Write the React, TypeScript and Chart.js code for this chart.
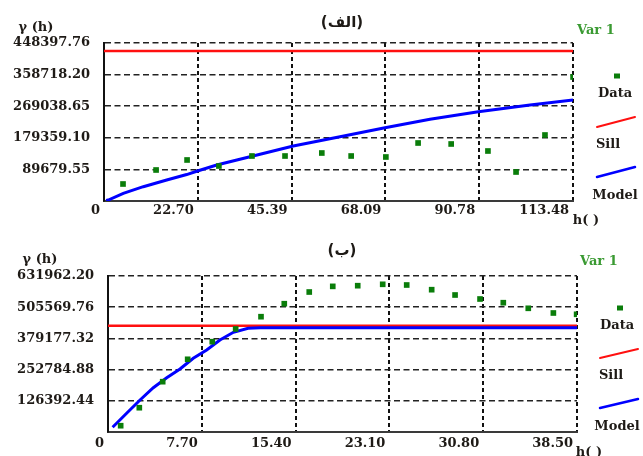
import React, { useEffect, useRef } from "react";
import { Chart, registerables } from "chart.js";

Chart.register(...registerables);

// ---------- Panel (الف) ----------
const A_TITLE = "(الف)";
const A_LAG = [4.6, 12.6, 20.1, 27.8, 35.8, 43.8, 52.7, 59.8, 68.2, 76.0, 84.0, 92.9, 99.7, 106.7, 113.5];
const A_GAMMA = [48250, 88000, 116400, 99300, 127700, 127700, 136200, 127700, 124900, 164600, 161800, 141900, 82300, 187300, 351900];
const A_MODEL_LAG = [0.5, 1.04, 4.67, 9.51, 15.17, 20.01, 22.43, 27.27, 35.33, 45.8, 57.1, 67.99, 78.88, 90.57, 103.08, 113.48];
const A_MODEL_GAMMA = [1500, 2800, 21900, 40600, 59600, 75000, 84500, 102200, 125700, 156100, 182500, 208000, 231900, 253400, 272400, 286600];
const A_SILL = 425700;
const A_X_TICKS = [0, 22.7, 45.39, 68.09, 90.78, 113.48];
const A_X_LABELS = ["0", "22.70", "45.39", "68.09", "90.78", "113.48"];
const A_Y_TICKS = [0, 89679.55, 179359.1, 269038.65, 358718.2, 448397.76];
const A_Y_LABELS = ["", "89679.55", "179359.10", "269038.65", "358718.20", "448397.76"];

// ---------- Panel (ب) ----------
const B_TITLE = "(ب)";
const B_LAG = [1.04, 2.57, 4.49, 6.54, 8.56, 10.48, 12.56, 14.47, 16.52, 18.45, 20.5, 22.55, 24.52, 26.57, 28.49, 30.54, 32.45, 34.5, 36.56, 38.47];
const B_GAMMA = [25500, 98400, 203800, 294500, 365800, 417300, 467100, 519700, 567100, 590000, 592700, 598300, 595500, 576500, 555000, 538800, 523800, 501100, 482100, 476800];
const B_MODEL_LAG = [0.38, 1.53, 2.63, 3.72, 4.82, 5.91, 7.0, 8.1, 9.19, 10.29, 11.5, 12.5, 38.5];
const B_MODEL_GAMMA = [19000, 75800, 129600, 179500, 220000, 255200, 298500, 332200, 372700, 403900, 420100, 422500, 422500];
const B_SILL = 430600;
const B_X_TICKS = [0, 7.7, 15.4, 23.1, 30.8, 38.5];
const B_X_LABELS = ["0", "7.70", "15.40", "23.10", "30.80", "38.50"];
const B_Y_TICKS = [0, 126392.44, 252784.88, 379177.32, 505569.76, 631962.2];
const B_Y_LABELS = ["", "126392.44", "252784.88", "379177.32", "505569.76", "631962.20"];

const LEGEND_LABELS = ["Data", "Sill", "Model"];
const SERIES_NAME = "Var 1";
const Y_AXIS_NAME = "γ (h)";
const X_AXIS_NAME = "h( )";

const W = 643;
const H = 228;
const TEXT = "#1e1a16";
const GREEN = "#0a7d0a";
const RED = "#ff1010";
const BLUE = "#0000ff";
const SERIF = "'DejaVu Serif', 'Liberation Serif', serif";

type Panel = {
  title: string;
  lag: number[];
  gamma: number[];
  modelLag: number[];
  modelGamma: number[];
  sill: number;
  xTicks: number[];
  xLabels: string[];
  yTicks: number[];
  yLabels: string[];
  area: { left: number; right: number; top: number; bottom: number };
  xPad: number;
  lay: {
    gamma: [number, number];
    title: [number, number];
    varName: [number, number];
    marker: [number, number];
    data: [number, number];
    red: [number, number, number, number];
    sill: [number, number];
    blue: [number, number, number, number];
    model: [number, number];
    hname: [number, number];
  };
};

const PANELS: Panel[] = [
  {
    title: A_TITLE,
    lag: A_LAG,
    gamma: A_GAMMA,
    modelLag: A_MODEL_LAG,
    modelGamma: A_MODEL_GAMMA,
    sill: A_SILL,
    xTicks: A_X_TICKS,
    xLabels: A_X_LABELS,
    yTicks: A_Y_TICKS,
    yLabels: A_Y_LABELS,
    area: { left: 104, right: 573, top: 43, bottom: 201 },
    xPad: 2,
    lay: {
      gamma: [36, 28],
      title: [342, 23],
      varName: [577, 31],
      marker: [617, 76],
      data: [615, 94],
      red: [597, 127, 635, 117],
      sill: [608, 145],
      blue: [597, 177, 635, 167],
      model: [615, 196],
      hname: [586, 221],
    },
  },
  {
    title: B_TITLE,
    lag: B_LAG,
    gamma: B_GAMMA,
    modelLag: B_MODEL_LAG,
    modelGamma: B_MODEL_GAMMA,
    sill: B_SILL,
    xTicks: B_X_TICKS,
    xLabels: B_X_LABELS,
    yTicks: B_Y_TICKS,
    yLabels: B_Y_LABELS,
    area: { left: 108, right: 577, top: 48, bottom: 204 },
    xPad: 4,
    lay: {
      gamma: [40, 32],
      title: [342, 23],
      varName: [580, 34],
      marker: [620, 80],
      data: [617, 98],
      red: [600, 130, 638, 121],
      sill: [611, 148],
      blue: [600, 180, 638, 171],
      model: [617, 199],
      hname: [589, 225],
    },
  },
];

function overlayPlugin(p: Panel) {
  return {
    id: "overlay",
    afterDraw(chart: any) {
      const ctx: CanvasRenderingContext2D = chart.ctx;
      const L = p.lay;
      ctx.save();
      ctx.textBaseline = "middle";
      ctx.textAlign = "center";
      ctx.fillStyle = TEXT;

      ctx.font = `bold 13px ${SERIF}`;
      ctx.fillText(Y_AXIS_NAME, L.gamma[0], L.gamma[1]);
      ctx.fillText(X_AXIS_NAME, L.hname[0], L.hname[1]);

      ctx.font = "bold 15px 'DejaVu Sans', sans-serif";
      ctx.fillText(p.title, L.title[0], L.title[1]);

      ctx.textAlign = "left";
      ctx.font = `bold 13px ${SERIF}`;
      ctx.fillStyle = "#3a9a32";
      ctx.fillText(SERIES_NAME, L.varName[0], L.varName[1]);

      // legend
      ctx.fillStyle = GREEN;
      ctx.fillRect(L.marker[0] - 3, L.marker[1] - 2.5, 6, 5);

      ctx.lineCap = "round";
      ctx.strokeStyle = RED;
      ctx.lineWidth = 2;
      ctx.beginPath();
      ctx.moveTo(L.red[0], L.red[1]);
      ctx.lineTo(L.red[2], L.red[3]);
      ctx.stroke();

      ctx.strokeStyle = BLUE;
      ctx.lineWidth = 2.5;
      ctx.beginPath();
      ctx.moveTo(L.blue[0], L.blue[1]);
      ctx.lineTo(L.blue[2], L.blue[3]);
      ctx.stroke();

      ctx.textAlign = "center";
      ctx.fillStyle = TEXT;
      ctx.font = `bold 13px ${SERIF}`;
      ctx.fillText(LEGEND_LABELS[0], L.data[0], L.data[1]);
      ctx.fillText(LEGEND_LABELS[1], L.sill[0], L.sill[1]);
      ctx.fillText(LEGEND_LABELS[2], L.model[0], L.model[1]);
      ctx.restore();
    },
  };
}

function PanelChart({ p, top }: { p: Panel; top: number }) {
  const ref = useRef<HTMLCanvasElement | null>(null);
  useEffect(() => {
    if (!ref.current) return;
    const xMax = p.xTicks[p.xTicks.length - 1];
    const yMax = p.yTicks[p.yTicks.length - 1];
    const X_AXIS_H = 20;
    const tickFont = { family: SERIF, weight: "bold" as const, size: 13 };
    const chart = new Chart(ref.current, {
      type: "scatter",
      data: {
        datasets: [
          {
            label: LEGEND_LABELS[0],
            data: p.lag.map((x, i) => ({ x, y: p.gamma[i] })),
            pointStyle: "rect",
            pointRadius: 4,
            backgroundColor: GREEN,
            borderColor: GREEN,
            borderWidth: 0,
            showLine: false,
          },
          {
            label: LEGEND_LABELS[2],
            data: p.modelLag.map((x, i) => ({ x, y: p.modelGamma[i] })),
            showLine: true,
            borderColor: BLUE,
            borderWidth: 3,
            pointRadius: 0,
            tension: 0,
          },
          {
            label: LEGEND_LABELS[1],
            data: [
              { x: 0, y: p.sill },
              { x: xMax, y: p.sill },
            ],
            showLine: true,
            borderColor: RED,
            borderWidth: 2.5,
            pointRadius: 0,
          },
        ],
      },
      options: {
        animation: false,
        responsive: false,
        maintainAspectRatio: false,
        layout: {
          padding: {
            left: 0,
            right: W - p.area.right,
            top: p.area.top,
            bottom: H - p.area.bottom - X_AXIS_H,
          },
        },
        plugins: {
          legend: { display: false },
          tooltip: { enabled: false },
          title: { display: false },
        },
        scales: {
          x: {
            type: "linear",
            min: 0,
            max: xMax,
            afterBuildTicks: (s: any) => {
              s.ticks = p.xTicks.map((v) => ({ value: v }));
            },
            afterFit: (s: any) => {
              s.height = X_AXIS_H;
            },
            grid: { color: "#111", lineWidth: 2, drawTicks: false },
            border: { display: true, color: "#3a3a3a", width: 2, dash: [4, 3] },
            ticks: {
              color: TEXT,
              font: tickFont,
              align: "end",
              padding: p.xPad,
              labelOffset: -4,
              maxRotation: 0,
              autoSkip: false,
              callback: (_v: any, i: number) => p.xLabels[i],
            },
          },
          y: {
            type: "linear",
            min: 0,
            max: yMax,
            afterBuildTicks: (s: any) => {
              s.ticks = p.yTicks.map((v) => ({ value: v }));
            },
            afterFit: (s: any) => {
              s.width = p.area.left;
            },
            grid: { color: "#222", lineWidth: 1.5, drawTicks: false },
            border: { display: true, color: "#111", width: 2, dash: [6, 3.5] },
            ticks: {
              color: TEXT,
              font: tickFont,
              padding: 14,
              autoSkip: false,
              callback: (_v: any, i: number) => p.yLabels[i],
            },
          },
        },
      },
      plugins: [overlayPlugin(p)],
    } as any);
    return () => chart.destroy();
  }, [p]);
  return (
    <canvas
      ref={ref}
      width={W}
      height={H}
      style={{ position: "absolute", left: 0, top, width: W, height: H }}
    />
  );
}

export default function App() {
  return (
    <div
      style={{
        position: "fixed",
        left: 0,
        top: 0,
        width: W,
        height: 456,
        background: "#fff",
        overflow: "hidden",
      }}
    >
      <PanelChart p={PANELS[0]} top={0} />
      <PanelChart p={PANELS[1]} top={228} />
    </div>
  );
}
